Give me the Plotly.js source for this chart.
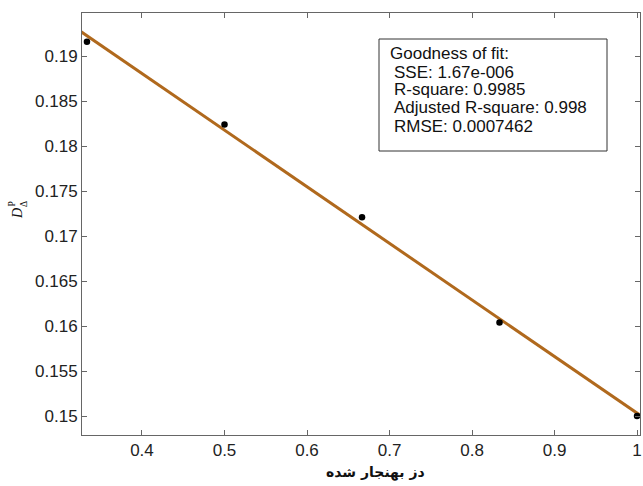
<!DOCTYPE html>
<html>
<head>
<meta charset="utf-8">
<script src="https://cdn.plot.ly/plotly-3.0.1.min.js"></script>
<style>
  html, body { margin: 0; padding: 0; background: #fff; }
  #chart { width: 643px; height: 486px; }
</style>
</head>
<body>
<div id="chart"></div>
<script>
// Data points
const doseX = [0.3333, 0.5, 0.6667, 0.8333, 1.0];
const dValues = [0.1916, 0.1824, 0.1721, 0.1604, 0.1500];

// Fitted line endpoints
const fitX = [0.32, 1.01];
const fitY = [0.1931, 0.1497];

// Tick labels
const xTickVals = [0.4, 0.5, 0.6, 0.7, 0.8, 0.9, 1.0];
const xTickText = ['0.4', '0.5', '0.6', '0.7', '0.8', '0.9', '1'];
const yTickVals = [0.15, 0.155, 0.16, 0.165, 0.17, 0.175, 0.18, 0.185, 0.19];
const yTickText = ['0.15', '0.155', '0.16', '0.165', '0.17', '0.175', '0.18', '0.185', '0.19'];

const fitStats = [
  'Goodness of fit:',
  'SSE: 1.67e-006',
  'R-square: 0.9985',
  'Adjusted R-square: 0.998',
  'RMSE: 0.0007462'
];
const xTitle = 'دز بهنجار شده';

// Plot area in pixels (for placing overlay text)
const PL = 82, PR = 640, PT = 13, PB = 435;
const px = v => (v - PL) / (PR - PL);
const py = v => 1 - (v - PT) / (PB - PT);

const traces = [
  {
    x: fitX, y: fitY, type: 'scatter', mode: 'lines',
    line: { color: '#b0691d', width: 3 },
    hoverinfo: 'skip', showlegend: false
  },
  {
    x: doseX, y: dValues, type: 'scatter', mode: 'markers',
    marker: { color: '#000', size: 6.5 },
    cliponaxis: false,
    showlegend: false
  }
];

const tickFont = { family: 'Liberation Sans, Arial, sans-serif', size: 17, color: '#222' };
const axisCommon = {
  showgrid: false, zeroline: false,
  showline: true, linecolor: '#666', linewidth: 1,
  mirror: 'ticks', ticks: 'inside', ticklen: 5, tickcolor: '#666',
  tickfont: tickFont
};

const lineY = [54, 72.3, 90, 107.7, 126.7];
const statAnn = fitStats.map((s, i) => ({
  xref: 'paper', yref: 'paper',
  x: px(i === 0 ? 388 : 392), y: py(lineY[i]),
  xanchor: 'left', yanchor: 'middle',
  text: s, showarrow: false,
  font: { family: 'Liberation Sans, Arial, sans-serif', size: 17, color: '#111' }
}));

const layout = {
  width: 643, height: 486,
  margin: { l: PL, r: 643 - PR, t: PT, b: 486 - PB },
  paper_bgcolor: '#fff', plot_bgcolor: '#fff',
  xaxis: Object.assign({}, axisCommon, {
    range: [0.3273, 1.0036],
    tickmode: 'array', tickvals: xTickVals, ticktext: xTickText
  }),
  yaxis: Object.assign({}, axisCommon, {
    range: [0.1479, 0.1948],
    tickmode: 'array', tickvals: yTickVals, ticktext: yTickText
  }),
  shapes: [
    {
      type: 'rect', xref: 'paper', yref: 'paper',
      x0: px(379), x1: px(607), y0: py(151), y1: py(39),
      line: { color: '#333', width: 1 }, fillcolor: '#fff', layer: 'above'
    }
  ],
  annotations: statAnn.concat([
    {
      xref: 'paper', yref: 'paper', x: px(375), y: py(472),
      xanchor: 'center', yanchor: 'middle',
      text: '<b>' + xTitle + '</b>',
      showarrow: false,
      font: { family: 'DejaVu Sans, sans-serif', size: 14, color: '#111' }
    },
    {
      xref: 'paper', yref: 'paper', x: px(17), y: py(214),
      xanchor: 'center', yanchor: 'middle',
      text: '<i>D</i>', textangle: -90,
      showarrow: false,
      font: { family: 'Liberation Serif, Times New Roman, serif', size: 14, color: '#111' }
    },
    {
      xref: 'paper', yref: 'paper', x: px(18), y: py(204),
      xanchor: 'center', yanchor: 'middle',
      text: 'P<br>Δ', textangle: -90,
      showarrow: false,
      font: { family: 'Liberation Serif, Times New Roman, serif', size: 9.5, color: '#111' }
    }
  ])
};

Plotly.newPlot('chart', traces, layout, { staticPlot: true, displayModeBar: false });
</script>
</body>
</html>
